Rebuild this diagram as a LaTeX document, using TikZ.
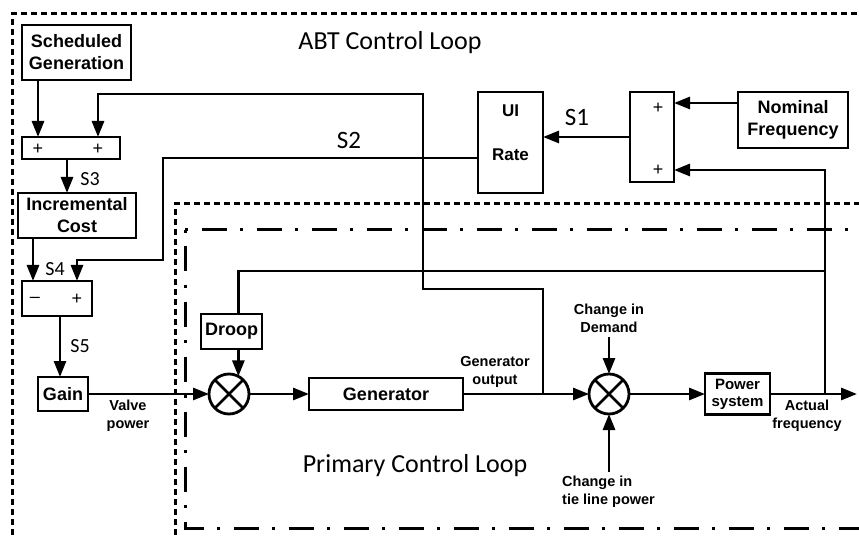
\documentclass[tikz,border=0pt]{standalone}
\usepackage{fontspec}
\setmainfont{Liberation Sans}
\newfontfamily\calfont{Carlito}
\usetikzlibrary{arrows.meta}
\begin{document}
\begin{tikzpicture}[x=1pt,y=-1pt,
  blk/.style={draw,line width=2.8pt,rectangle,inner sep=0pt,outer sep=0pt,align=center,font=\fontsize{18}{22}\selectfont\bfseries},
  conn/.style={line width=2.8pt},
  arr/.style={line width=2.8pt,-{Triangle[length=16pt,width=12pt]}},
  sumj/.style={draw,circle,line width=2.8pt,minimum size=40pt,inner sep=0pt,outer sep=0pt,
    path picture={\draw[line width=2.8pt] (path picture bounding box.north west) -- (path picture bounding box.south east)
      (path picture bounding box.north east) -- (path picture bounding box.south west);}},
  small/.style={font=\fontsize{14.5}{18}\selectfont\bfseries,align=center,inner sep=0pt},
  sig/.style={font=\calfont\fontsize{20}{24}\selectfont,inner sep=0pt},
  sigb/.style={font=\calfont\fontsize{25}{30}\selectfont,inner sep=0pt},
  big/.style={font=\calfont\fontsize{26}{30}\selectfont,inner sep=0pt},
  pm/.style={font=\fontsize{18}{18}\selectfont,inner sep=0pt},
  outerdot/.style={line width=3pt,dash pattern=on 6pt off 4pt},
  dashdot/.style={line width=3pt,dash pattern=on 25pt off 13.5pt on 3pt off 13.5pt,dash phase=38.5pt},
]
\useasboundingbox (0,0) rectangle (859,537);
\clip (0,0) rectangle (859,537);

% loop borders
\draw[outerdot] (12,545) -- (12,14) -- (870,14);
\draw[outerdot] (175,545) -- (175,204) -- (870,204);
\draw[dashdot] (185,230) -- (870,230);
\draw[dashdot] (185,230) -- (185,528) -- (870,528);

% titles
\node[big] (t1) at (390,43) {ABT Control Loop};
\node[big] (t2) at (415,466) {Primary Control Loop};

% blocks
\node[blk,minimum width=109pt,minimum height=55pt] (sched) at (76.5,52.5) {Scheduled\\Generation};
\node[blk,minimum width=98pt,minimum height=22pt] (sum1) at (71,148) {};
\node[blk,minimum width=118pt,minimum height=45pt] (inc) at (77,215.5) {Incremental\\Cost};
\node[blk,minimum width=70pt,minimum height=35pt] (sum2) at (57,298.5) {};
\node[blk,minimum width=50pt,minimum height=34pt] (gain) at (63,394) {Gain};
\node[blk,minimum width=61pt,minimum height=35pt] (droop) at (231.5,331.5) {Droop};
\node[sumj] (x1) at (229,394) {};
\node[blk,minimum width=154pt,minimum height=32pt] (gen) at (386,394) {Generator};
\node[sumj] (x2) at (609,394) {};
\node[blk,minimum width=65pt,minimum height=41pt,font=\fontsize{15}{17}\selectfont\bfseries] (pow) at (737.5,394) {Power\\system};
\node[blk,minimum width=65pt,minimum height=101pt] (ui) at (510.5,142.5) {};
\node[font=\fontsize{17}{20}\selectfont\bfseries,inner sep=0pt] (uit) at (510.5,111) {UI};
\node[font=\fontsize{17}{20}\selectfont\bfseries,inner sep=0pt] (rate) at (510.5,155) {Rate};
\node[blk,minimum width=44pt,minimum height=90pt] (sum3) at (652,137) {};
\node[blk,minimum width=110pt,minimum height=56pt] (nom) at (793,120) {Nominal\\Frequency};

% signs
\node[pm] (p1) at (38,149) {+};
\node[pm] (p2) at (98,149) {+};
\node[pm] (m3) at (35,300) {–};
\node[pm] (p4) at (77,299) {+};
\node[pm] (p5) at (658,108) {+};
\node[pm] (p6) at (658,170) {+};

% signal labels
\node[sigb] (s1) at (577,117) {S1};
\node[sigb] (s2) at (349,140) {S2};
\node[sig] (s3) at (90,179) {S3};
\node[sig] (s4) at (55,269) {S4};
\node[sig] (s5) at (80,346) {S5};

% small labels
\node[small] (vp) at (128,416) {Valve\\power};
\node[small] (go) at (495,372) {Generator\\output};
\node[small] (dem) at (609,318) {Change in\\Demand};
\node[small,align=left,anchor=west] (tie) at (562,492) {Change in\\tie line power};
\node[small] (af) at (807,416) {Actual\\frequency};

% coordinates
\coordinate (g1) at (543,394);
\coordinate (fb) at (825,394);
\coordinate (out) at (857,394);

% connectors
\draw[arr] ([xshift=16pt]sched.south west) -- ([xshift=16pt]sum1.north west);
\draw[arr] (g1) -- (543,289) -- (423,289) -- (423,94) -- (98,94) -- ([xshift=76pt]sum1.north west);
\draw[arr] ([xshift=45pt]sum1.south west) -- ([xshift=45pt]sum1.south west |- inc.north);
\draw[arr] ([xshift=15pt]inc.south west) -- ([xshift=11pt]sum2.north west);
\draw[arr] ([yshift=-15.5pt]ui.west) -- (163,158) -- (163,260) -- (77,260) -- ([xshift=55pt]sum2.north west);
\draw[arr] ([xshift=38pt]sum2.south west) -- ([xshift=22pt]gain.north west);
\draw[arr] (gain.east) -- (x1.west);
\draw[arr] (x1.east) -- (gen.west);
\draw[arr] (droop.south -| x1.62) -- (x1.62);
\draw[conn] (droop.north -| x1.62) -- (x1.62 |- 0,271) -- (825,271);
\draw[arr] (gen.east) -- (x2.west);
\draw[arr] (x2.east) -- (pow.west);
\draw[arr] (pow.east) -- (out);
\draw[arr] (fb) -- (825,170) -- ([yshift=-33pt]sum3.east);
\draw[arr] ([yshift=17pt]nom.west) -- ([yshift=17pt]nom.west -| sum3.east);
\draw[arr] (sum3.west) -- (sum3.west -| ui.east);
\draw[arr] ([yshift=-4pt]dem.south) -- (x2.north);
\draw[arr] (x2.south |- 0,472) -- (x2.south);
\end{tikzpicture}
\end{document}
